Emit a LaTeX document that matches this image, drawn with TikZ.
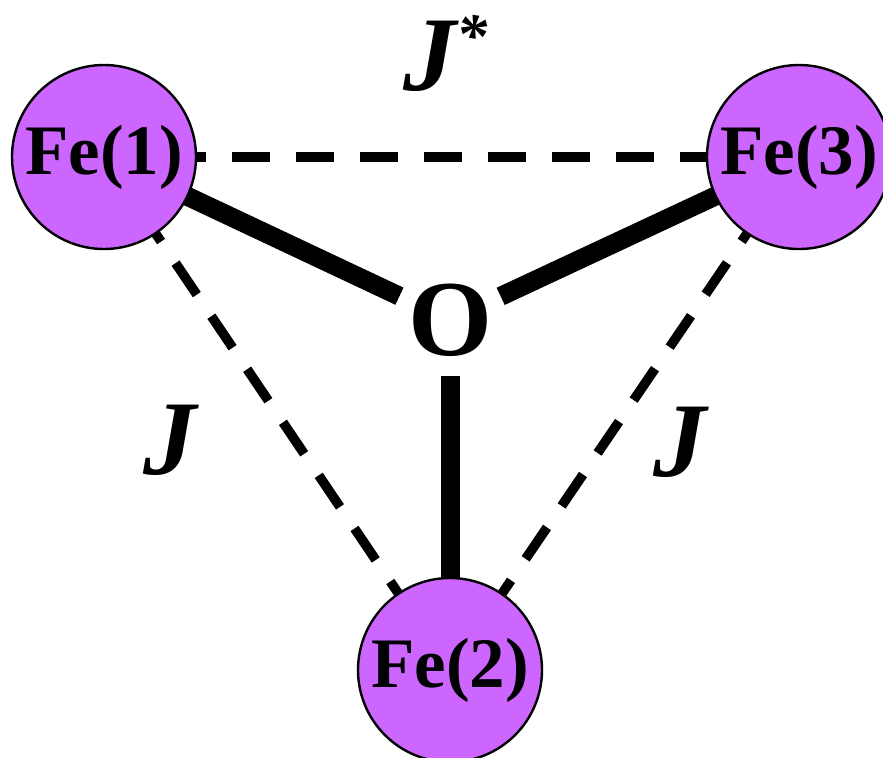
\documentclass[tikz,border=0pt]{standalone}
\usepackage{fontspec}
\setmainfont{Liberation Serif}
\usetikzlibrary{backgrounds}
\definecolor{fepurple}{RGB}{204,102,255}
\tikzset{
  atom/.style={circle, draw=black, line width=1.2pt, fill=fepurple, minimum size=92pt,
    inner sep=0pt, font=\fontsize{35.5}{36}\selectfont\bfseries},
  oxygen/.style={circle, inner sep=0pt, minimum size=55.5pt,
    font=\fontsize{54}{55}\selectfont\bfseries},
  bond/.style={line width=9.5pt},
  exch/.style={line width=4.8pt, dash pattern=on 19pt off 13pt},
  coupling/.style={font=\fontsize{53}{54}\selectfont\bfseries\itshape}
}
\newcommand{\starmark}{\raisebox{17pt}{\fontsize{31}{31}\selectfont *}}
\begin{document}
\begin{tikzpicture}[x=0.5pt, y=-0.5pt]
    \useasboundingbox (0,0) rectangle (883,757);
    % --- atoms ---
    \node[atom] (fe1) at (104,157) {Fe(1)};
    \node[atom] (fe3) at (799,157) {Fe(3)};
    \node[atom] (fe2) at (450,670) {Fe(2)};
    \node[oxygen] (o) at (450,320) {O};
    % --- bonds and exchange paths (behind the atoms) ---
    \begin{scope}[on background layer]
        \draw[exch] (fe1.center) -- (fe3.center);
        \draw[exch] (fe1.center) -- (fe2.center);
        \draw[exch] (fe3.center) -- (fe2.center);
        \draw[bond] (fe1.center) -- (o);
        \draw[bond] (fe3.center) -- (o);
        \draw[bond] (fe2.center) -- (o);
    \end{scope}
    % --- couplings ---
    \node[coupling, anchor=base west] (jstar) at (396,90) {J\starmark};
    \node[coupling] (jleft) at (170,440) {J};
    \node[coupling] (jright) at (680,442) {J};
\end{tikzpicture}
\end{document}
